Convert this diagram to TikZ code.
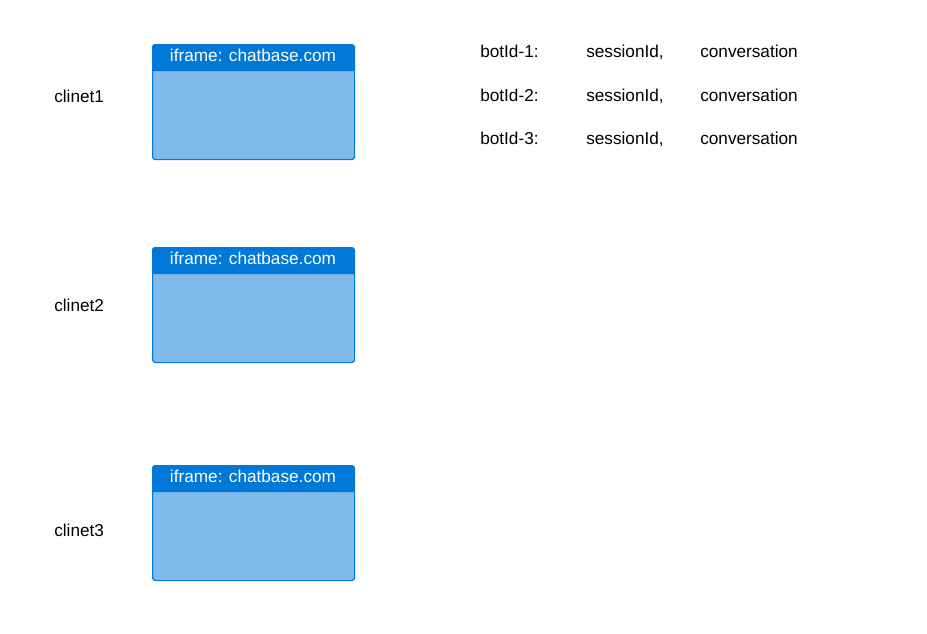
\documentclass[tikz,border=0pt]{standalone}
\usepackage{fontspec}
\setmainfont{Liberation Sans}
\definecolor{headblue}{RGB}{0,120,215}
\definecolor{bodyblue}{RGB}{127,186,234}
\tikzset{
  frame/.style={draw=headblue, fill=bodyblue, line width=0.9pt, rounded corners=2.25pt,
    minimum width=151.5pt, minimum height=86.25pt, anchor=north west, inner sep=0pt},
  head/.style={text=white, anchor=base, inner sep=0pt, font=\fontsize{12.9}{15}\selectfont},
  lbl/.style={anchor=base west, inner sep=0pt, font=\fontsize{12.9}{15}\selectfont}
}

\begin{document}
\begin{tikzpicture}[x=0.75pt, y=-0.75pt]
    \useasboundingbox (0,0) rectangle (927,633);
    % client frames
    \foreach \i/\y/\ly in {1/44/96, 2/247/305, 3/465/530} {
        \node[frame] (box\i) at (152,\y) {};
        \fill[headblue, rounded corners=2.25pt] (152,\y+27) -- (152,\y) -- (354,\y)
            [sharp corners] -- (354,\y+27) -- cycle;
        \node[head] (title\i) at (253,\y+17) {iframe: chatbase.com};
        \node[lbl] (client\i) at (54,\ly+6) {clinet\i};
    }
    % bot table
    \foreach \i/\y in {1/51, 2/95, 3/138} {
        \node[lbl] (bot\i) at (480,\y+6) {botId-\i:};
        \node[lbl] (session\i) at (586,\y+6) {sessionId,};
        \node[lbl] (conv\i) at (700,\y+6) {conversation};
    }
\end{tikzpicture}
\end{document}
